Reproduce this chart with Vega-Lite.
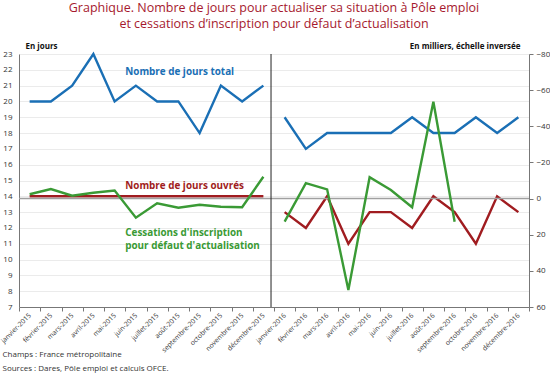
{
  "$schema": "https://vega.github.io/schema/vega-lite/v6.json",
  "width": 510,
  "height": 253,
  "autosize": "none",
  "padding": {"left": 19, "top": 54, "right": 21, "bottom": 69},
  "background": "white",
  "config": {
    "font": "Open Sans",
    "view": {"stroke": null},
    "axis": {"labelColor": "#333333", "domainColor": "#777777", "tickColor": "#777777", "labelFontSize": 8}
  },
  "title": {
    "text": ["Graphique. Nombre de jours pour actualiser sa situation à Pôle emploi", "et cessations d’inscription pour défaut d’actualisation"],
    "color": "#a6192e",
    "fontSize": 12.5,
    "fontWeight": "normal",
    "anchor": "middle",
    "frame": "group",
    "lineHeight": 15.5,
    "offset": 12
  },
  "data": {
    "values": [
      {"m": "janvier-2015", "p": "2015", "s": "total", "v": 20},
      {"m": "février-2015", "p": "2015", "s": "total", "v": 20},
      {"m": "mars-2015", "p": "2015", "s": "total", "v": 21},
      {"m": "avril-2015", "p": "2015", "s": "total", "v": 23},
      {"m": "mai-2015", "p": "2015", "s": "total", "v": 20},
      {"m": "juin-2015", "p": "2015", "s": "total", "v": 21},
      {"m": "juillet-2015", "p": "2015", "s": "total", "v": 20},
      {"m": "août-2015", "p": "2015", "s": "total", "v": 20},
      {"m": "septembre-2015", "p": "2015", "s": "total", "v": 18},
      {"m": "octobre-2015", "p": "2015", "s": "total", "v": 21},
      {"m": "novembre-2015", "p": "2015", "s": "total", "v": 20},
      {"m": "décembre-2015", "p": "2015", "s": "total", "v": 21},
      {"m": "janvier-2016", "p": "2016", "s": "total", "v": 19},
      {"m": "février-2016", "p": "2016", "s": "total", "v": 17},
      {"m": "mars-2016", "p": "2016", "s": "total", "v": 18},
      {"m": "avril-2016", "p": "2016", "s": "total", "v": 18},
      {"m": "mai-2016", "p": "2016", "s": "total", "v": 18},
      {"m": "juin-2016", "p": "2016", "s": "total", "v": 18},
      {"m": "juillet-2016", "p": "2016", "s": "total", "v": 19},
      {"m": "août-2016", "p": "2016", "s": "total", "v": 18},
      {"m": "septembre-2016", "p": "2016", "s": "total", "v": 18},
      {"m": "octobre-2016", "p": "2016", "s": "total", "v": 19},
      {"m": "novembre-2016", "p": "2016", "s": "total", "v": 18},
      {"m": "décembre-2016", "p": "2016", "s": "total", "v": 19},
      {"m": "janvier-2015", "p": "2015", "s": "ouvres", "v": 14},
      {"m": "février-2015", "p": "2015", "s": "ouvres", "v": 14},
      {"m": "mars-2015", "p": "2015", "s": "ouvres", "v": 14},
      {"m": "avril-2015", "p": "2015", "s": "ouvres", "v": 14},
      {"m": "mai-2015", "p": "2015", "s": "ouvres", "v": 14},
      {"m": "juin-2015", "p": "2015", "s": "ouvres", "v": 14},
      {"m": "juillet-2015", "p": "2015", "s": "ouvres", "v": 14},
      {"m": "août-2015", "p": "2015", "s": "ouvres", "v": 14},
      {"m": "septembre-2015", "p": "2015", "s": "ouvres", "v": 14},
      {"m": "octobre-2015", "p": "2015", "s": "ouvres", "v": 14},
      {"m": "novembre-2015", "p": "2015", "s": "ouvres", "v": 14},
      {"m": "décembre-2015", "p": "2015", "s": "ouvres", "v": 14},
      {"m": "janvier-2016", "p": "2016", "s": "ouvres", "v": 13},
      {"m": "février-2016", "p": "2016", "s": "ouvres", "v": 12},
      {"m": "mars-2016", "p": "2016", "s": "ouvres", "v": 14},
      {"m": "avril-2016", "p": "2016", "s": "ouvres", "v": 11},
      {"m": "mai-2016", "p": "2016", "s": "ouvres", "v": 13},
      {"m": "juin-2016", "p": "2016", "s": "ouvres", "v": 13},
      {"m": "juillet-2016", "p": "2016", "s": "ouvres", "v": 12},
      {"m": "août-2016", "p": "2016", "s": "ouvres", "v": 14},
      {"m": "septembre-2016", "p": "2016", "s": "ouvres", "v": 13},
      {"m": "octobre-2016", "p": "2016", "s": "ouvres", "v": 11},
      {"m": "novembre-2016", "p": "2016", "s": "ouvres", "v": 14},
      {"m": "décembre-2016", "p": "2016", "s": "ouvres", "v": 13},
      {"m": "janvier-2015", "p": "2015", "s": "cess", "v": -2.4},
      {"m": "février-2015", "p": "2015", "s": "cess", "v": -5.3},
      {"m": "mars-2015", "p": "2015", "s": "cess", "v": -1.6},
      {"m": "avril-2015", "p": "2015", "s": "cess", "v": -3.2},
      {"m": "mai-2015", "p": "2015", "s": "cess", "v": -4.4},
      {"m": "juin-2015", "p": "2015", "s": "cess", "v": 10.6},
      {"m": "juillet-2015", "p": "2015", "s": "cess", "v": 2.6},
      {"m": "août-2015", "p": "2015", "s": "cess", "v": 5.1},
      {"m": "septembre-2015", "p": "2015", "s": "cess", "v": 3.4},
      {"m": "octobre-2015", "p": "2015", "s": "cess", "v": 4.5},
      {"m": "novembre-2015", "p": "2015", "s": "cess", "v": 4.8},
      {"m": "décembre-2015", "p": "2015", "s": "cess", "v": -12.1},
      {"m": "janvier-2016", "p": "2016", "s": "cess", "v": 12.8},
      {"m": "février-2016", "p": "2016", "s": "cess", "v": -8.5},
      {"m": "mars-2016", "p": "2016", "s": "cess", "v": -5.1},
      {"m": "avril-2016", "p": "2016", "s": "cess", "v": 50.6},
      {"m": "mai-2016", "p": "2016", "s": "cess", "v": -11.8},
      {"m": "juin-2016", "p": "2016", "s": "cess", "v": -4.7},
      {"m": "juillet-2016", "p": "2016", "s": "cess", "v": 4.8},
      {"m": "août-2016", "p": "2016", "s": "cess", "v": -53.6},
      {"m": "septembre-2016", "p": "2016", "s": "cess", "v": 12.8}
    ]
  },
  "encoding": {
    "x": {
      "field": "m",
      "type": "ordinal",
      "sort": null,
      "scale": {
        "type": "band",
        "paddingInner": 0,
        "paddingOuter": 0,
        "domain": ["janvier-2015", "février-2015", "mars-2015", "avril-2015", "mai-2015", "juin-2015", "juillet-2015", "août-2015", "septembre-2015", "octobre-2015", "novembre-2015", "décembre-2015", "janvier-2016", "février-2016", "mars-2016", "avril-2016", "mai-2016", "juin-2016", "juillet-2016", "août-2016", "septembre-2016", "octobre-2016", "novembre-2016", "décembre-2016"]
      },
      "axis": {
        "labelAngle": -45,
        "labelAlign": "right",
        "labelBaseline": "middle",
        "labelFontSize": 6.8,
        "labelPadding": 3,
        "tickBand": "extent",
        "tickSize": 4,
        "grid": false,
        "title": ["Champs : France métropolitaine", "Sources : Dares, Pôle emploi et calculs OFCE."],
        "titleAnchor": "start",
        "titleAlign": "left",
        "titleBaseline": "top",
        "titleX": -17,
        "titleY": 43,
        "titleFontSize": 8,
        "titleFontWeight": "normal",
        "titleColor": "#333333",
        "titleLineHeight": 14
      }
    }
  },
  "layer": [
    {
      "encoding": {
        "y": {
          "field": "v",
          "type": "quantitative",
          "scale": {"domain": [7, 23], "nice": false, "zero": false},
          "axis": {
            "values": [7, 8, 9, 10, 11, 12, 13, 14, 15, 16, 17, 18, 19, 20, 21, 22, 23],
            "grid": true,
            "gridColor": "#ebebeb",
            "ticks": false,
            "labelPadding": 7,
            "title": "En jours",
            "titleAngle": 0,
            "titleAlign": "left",
            "titleBaseline": "bottom",
            "titleX": 6,
            "titleY": -4,
            "titleFontSize": 8,
            "titleFontWeight": "bold",
            "titleColor": "#111111"
          }
        }
      },
      "layer": [
        {
          "transform": [{"filter": "datum.s != 'cess'"}],
          "mark": {"type": "line", "strokeWidth": 2.4},
          "encoding": {
            "color": {"field": "s", "type": "nominal", "scale": {"domain": ["total", "ouvres", "cess"], "range": ["#1a6fb5", "#a01c20", "#3a9a35"]}, "legend": null},
            "detail": {"field": "p"}
          }
        },
        {
          "transform": [{"filter": "datum.s == 'total' && datum.m == 'janvier-2015'"}],
          "mark": {"type": "text", "align": "left", "baseline": "middle", "fontWeight": "bold", "fontSize": 9.9, "color": "#1a6fb5", "text": "Nombre de jours total"},
          "encoding": {"x": {"datum": "juin-2015", "bandPosition": 0}, "y": {"datum": 21.85}}
        },
        {
          "transform": [{"filter": "datum.s == 'total' && datum.m == 'janvier-2015'"}],
          "mark": {"type": "text", "align": "left", "baseline": "middle", "fontWeight": "bold", "fontSize": 9.9, "color": "#a01c20", "text": "Nombre de jours ouvrés"},
          "encoding": {"x": {"datum": "juin-2015", "bandPosition": 0}, "y": {"datum": 14.67}}
        },
        {
          "transform": [{"filter": "datum.s == 'total' && datum.m == 'janvier-2015'"}],
          "mark": {"type": "text", "align": "left", "baseline": "middle", "fontWeight": "bold", "fontSize": 9.9, "lineHeight": 12.5, "color": "#3a9a35", "text": ["Cessations d'inscription", "pour défaut d'actualisation"]},
          "encoding": {"x": {"datum": "juin-2015", "bandPosition": 0}, "y": {"datum": 11.65}}
        }
      ]
    },
    {
      "encoding": {
        "y": {
          "field": "v",
          "type": "quantitative",
          "scale": {"domain": [-80, 60], "reverse": true, "nice": false, "zero": false},
          "axis": {
            "orient": "right",
            "values": [-80, -60, -40, -20, 0, 20, 40, 60],
            "grid": false,
            "tickSize": 4,
            "labelPadding": 3,
            "title": "En milliers, échelle inversée",
            "titleAngle": 0,
            "titleAlign": "right",
            "titleBaseline": "bottom",
            "titleX": -9,
            "titleY": -4,
            "titleFontSize": 8,
            "titleFontWeight": "bold",
            "titleColor": "#111111"
          }
        }
      },
      "layer": [
        {
          "transform": [{"filter": "datum.s == 'total' && datum.m == 'janvier-2015'"}],
          "mark": {"type": "rule", "color": "#a0a0a0", "strokeWidth": 1.5},
          "encoding": {"x": null, "y": {"datum": 0}}
        },
        {
          "transform": [{"filter": "datum.s == 'total' && datum.m == 'janvier-2015'"}],
          "mark": {"type": "rule", "color": "#222222", "strokeWidth": 1},
          "encoding": {"x": {"datum": "décembre-2015", "bandPosition": 0.86}, "y": null}
        },
        {
          "transform": [{"filter": "datum.s == 'cess'"}],
          "mark": {"type": "line", "strokeWidth": 2.4},
          "encoding": {
            "color": {"field": "s", "type": "nominal", "legend": null},
            "detail": {"field": "p"}
          }
        }
      ]
    }
  ],
  "resolve": {"scale": {"y": "independent"}, "axis": {"y": "independent"}}
}
